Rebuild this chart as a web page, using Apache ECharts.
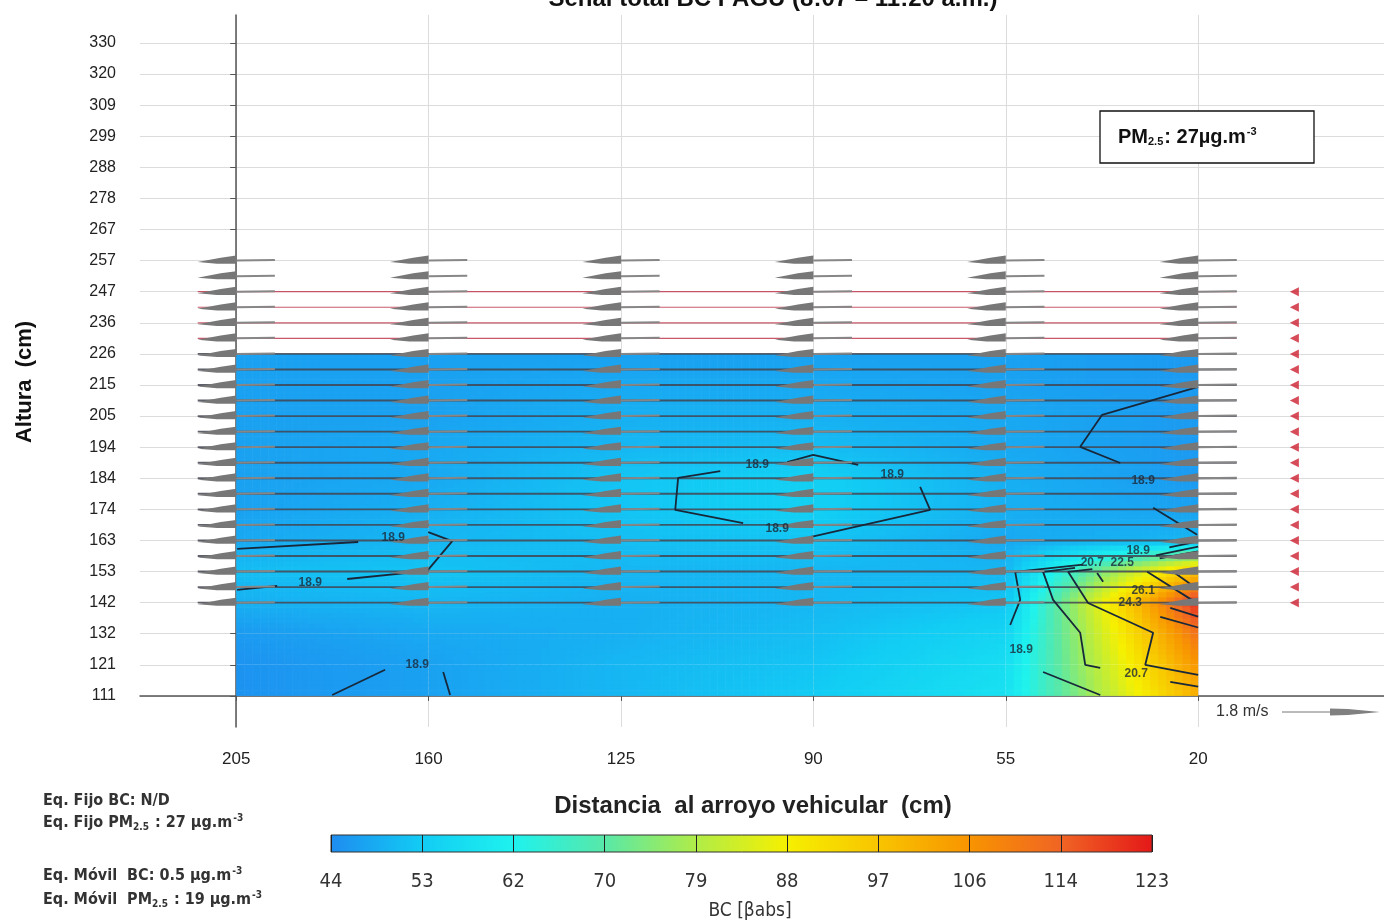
<!DOCTYPE html>
<html><head><meta charset="utf-8">
<script src="https://cdn.jsdelivr.net/npm/echarts@6/dist/echarts.min.js"></script>
<style>html,body{margin:0;padding:0;background:#fff}#c{width:1384px;height:922px}</style>
</head><body><div id="c"></div>
<script>
// ---------- data ----------
const xLabels = ['205','160','125','90','55','20'];
const yLabels = ['111','121','132','142','153','163','174','184','194','205','215','226','236','247','257','267','278','288','299','309','320','330'];
// BC field: rows bottom (111) to top (226), columns 205 -> 20
const bcField = [
  [45, 47, 50, 53, 58, 101],
  [45, 47, 50, 52, 57, 106],
  [46, 48, 49, 51, 55, 112],
  [49, 50, 49, 50, 52, 121],
  [51, 52, 50, 50, 50, 98],
  [48, 50, 51, 52, 48, 50],
  [47, 49, 52, 54, 49, 47],
  [47, 48, 52, 54, 49, 46],
  [47, 48, 50, 51, 48, 46],
  [47, 47, 49, 49, 48, 46],
  [47, 47, 48, 48, 47, 46],
  [47, 47, 47, 47, 47, 46]
];
const cbTicks = ['44','53','62','70','79','88','97','106','114','123'];
const cbValues = [44, 53, 62, 70, 79, 88, 97, 106, 114, 123];
const windRows = [3,3.5,4,4.5,5,5.5,6,6.5,7,7.5,8,8.5,9,9.5,10,10.5,11,11.5,12,12.5,13,13.5,14];
const windSpeed = [1.45,1.45,1.45,1.45,1.45,1.45,1.45,1.45,1.45,1.45,1.45,1.45,1.45,1.45,1.45,1.45,1.45,1.45,1.45,1.45,1.45,1.45,1.45];
const markerRows = [3,3.5,4,4.5,5,5.5,6,6.5,7,7.5,8,8.5,9,9.5,10,10.5,11,11.5,12,12.5,13];
const keySpeed = 1.8;
const contourLines = [
  [[0.005,4.73],[0.634,4.95]],
  [[0.998,5.27],[1.123,4.98],[0.993,4.02],[0.577,3.76]],
  [[0.213,3.54],[0.005,3.41]],
  [[0.499,0.03],[0.774,0.84]],
  [[1.076,0.77],[1.112,0.03]],
  [[2.516,7.23],[2.297,7.01],[2.282,5.98],[2.635,5.56]],
  [[2.864,7.52],[2.999,7.75],[3.233,7.43]],
  [[3.555,6.72],[3.607,5.98],[2.983,5.11]],
  [[5.0,9.94],[4.501,9.04],[4.387,8.01],[4.595,7.49]],
  [[4.766,6.05],[4.995,5.18]],
  [[4.023,2.28],[4.075,3.09],[4.049,3.99],[4.40,4.22]],
  [[4.85,4.78],[5.0,4.97]],
  [[4.491,0.9],[4.413,1.0],[4.387,2.03],[4.246,3.09],[4.194,3.99],[4.36,4.12]],
  [[4.78,4.52],[5.0,4.80]],
  [[4.855,0.45],[5.0,0.30]],
  [[5.0,0.68],[4.725,1.0],[4.766,2.03],[4.428,2.99],[4.324,3.99],[4.45,4.08]],
  [[4.80,4.42],[5.0,4.65]],
  [[4.735,3.99],[5.0,2.96]],
  [[4.87,3.99],[5.0,3.42]],
  [[4.855,2.83],[5.0,2.55]],
  [[4.803,2.54],[5.0,2.2]],
  [[4.194,0.77],[4.491,0.03]],
  [[4.475,3.95],[4.506,3.67]]
];
const contourLabels = [
  [0.816,5.08,'18.9'],[0.385,3.63,'18.9'],[0.941,1.0,'18.9'],
  [2.708,7.43,'18.9'],[3.410,7.11,'18.9'],[2.812,5.37,'18.9'],
  [4.714,6.91,'18.9'],[4.688,4.66,'18.9'],[4.08,1.48,'18.9'],
  [4.678,0.71,'20.7'],[4.45,4.28,'20.7'],[4.605,4.28,'22.5'],
  [4.714,3.38,'26.1'],[4.647,2.99,'24.3']
];

// ---------- styles ----------
const cbColors = ['#1e8cf0','#12ccf4','#1ef2ee','#58e8a8','#b0ec48','#f6f000','#f8c400','#f89400','#f06424','#e41818'];
const FONT = 'Liberation Sans, Arial, sans-serif';
const NARROW = '"DejaVu Sans Condensed", "Liberation Sans Narrow", sans-serif';

function hexToRgb(h){return [parseInt(h.substr(1,2),16),parseInt(h.substr(3,2),16),parseInt(h.substr(5,2),16)];}
const cbRgb = cbColors.map(hexToRgb);
function valueToColor(v){
  if (v <= cbValues[0]) return cbColors[0];
  const n = cbValues.length;
  if (v >= cbValues[n-1]) return cbColors[n-1];
  for (let k = 0; k < n-1; k++) {
    if (v <= cbValues[k+1]) {
      const t = (v - cbValues[k]) / (cbValues[k+1] - cbValues[k]);
      const a = cbRgb[k], b = cbRgb[k+1];
      return 'rgb(' + Math.round(a[0]+(b[0]-a[0])*t) + ',' + Math.round(a[1]+(b[1]-a[1])*t) + ',' + Math.round(a[2]+(b[2]-a[2])*t) + ')';
    }
  }
}

const cells = [];
for (let j = 0; j < bcField.length - 1; j++)
  for (let i = 0; i < xLabels.length - 1; i++) cells.push([i, j]);

const arrowData = [];
for (let i = 0; i < xLabels.length; i++)
  for (let r = 0; r < windRows.length; r++) arrowData.push([i, windRows[r], windSpeed[r]]);

const xIdx = xLabels.map((_, i) => i);
const yIdx = yLabels.map((_, i) => i);

const KEY_PX = 96; // pixel length of the key arrow (1.8 m/s)

const series = [];
// heat field
series.push({
  type: 'custom', xAxisIndex: 0, yAxisIndex: 0, z: 1, silent: true,
  data: cells,
  renderItem: function (params, api) {
    const i = api.value(0), j = api.value(1);
    const v00 = bcField[j][i], v10 = bcField[j][i+1], v01 = bcField[j+1][i], v11 = bcField[j+1][i+1];
    const p0 = api.coord([i, j]), p1 = api.coord([i+1, j+1]);
    const nx = 24, ny = 6;
    const w = (p1[0]-p0[0])/nx, h = (p0[1]-p1[1])/ny;
    const ch = [];
    for (let a = 0; a < nx; a++) for (let b = 0; b < ny; b++) {
      const u = (a+0.5)/nx, t = (b+0.5)/ny;
      const v = v00*(1-u)*(1-t) + v10*u*(1-t) + v01*(1-u)*t + v11*u*t;
      const x = p0[0] + a*w, y = p0[1] - (b+1)*h;
      ch.push({type:'rect', shape:{x:x, y:y - (b===ny-1 ? 0 : 0.6), width:w + (a===nx-1 ? 0 : 0.6), height:h + (b===ny-1 ? 0 : 0.6)}, style:{fill: valueToColor(v)}});
    }
    return {type:'group', children: ch};
  }
});
// stream lines through rows
series.push({
  type: 'custom', xAxisIndex: 0, yAxisIndex: 0, z: 3, silent: true,
  data: windRows.filter(y => y <= 13).map(y => [y]),
  renderItem: function (params, api) {
    const y = api.value(0);
    const a = api.coord([-0.2, y]), b = api.coord([5.2, y]);
    const inField = y <= 11;
    return {type:'line', shape:{x1:a[0], y1:a[1], x2:b[0], y2:b[1]},
      style:{stroke: inField ? 'rgba(66,68,80,0.85)' : 'rgba(192,60,80,0.85)', lineWidth: inField ? 1.9 : 1.2}};
  }
});
// contour lines
contourLines.forEach(seg => series.push({
  type: 'line', xAxisIndex: 0, yAxisIndex: 0, z: 5, silent: true,
  data: seg, showSymbol: false, symbol: 'none', animation: false,
  lineStyle: {color: '#18283a', width: 1.8}
}));
// wind arrows
series.push({
  type: 'custom', xAxisIndex: 0, yAxisIndex: 0, z: 6, silent: true,
  data: arrowData,
  renderItem: function (params, api) {
    const c = api.coord([api.value(0), api.value(1)]);
    const L = api.value(2) / keySpeed * KEY_PX / 2;
    const cx = c[0], cy = c[1];
    return {type:'group', children:[
      {type:'line', shape:{x1:cx, y1:cy, x2:cx+L, y2:cy-0.5}, style:{stroke:'#878787', lineWidth:2}},
      {type:'polygon', shape:{points:[[cx-L, cy+1.5],[cx-L*0.4, cy-2.8],[cx, cy-5],[cx, cy+3.2],[cx-L*0.5, cy+3.2]]}, style:{fill:'#777777'}}
    ]};
  }
});
// red markers
series.push({
  type: 'scatter', xAxisIndex: 0, yAxisIndex: 0, z: 6, silent: true,
  data: markerRows.map(y => [5.5, y]),
  symbol: 'triangle', symbolRotate: 90, symbolSize: [9, 9],
  itemStyle: {color: '#cc1f30'}
});
// contour labels
series.push({
  type: 'scatter', xAxisIndex: 0, yAxisIndex: 0, z: 7, silent: true,
  data: contourLabels, symbolSize: 0,
  label: {show: true, position: 'inside', formatter: p => p.value[2],
    fontFamily: FONT, fontWeight: 'bold', fontSize: 12, color: '#1b2838'}
});
// colorbar
series.push({
  type: 'custom', xAxisIndex: 1, yAxisIndex: 1, z: 2, silent: true,
  data: [[0]],
  renderItem: function (params, api) {
    const a = api.coord([0, 0]), b = api.coord([cbValues.length - 1, 1]);
    const stops = cbColors.map((c, k) => ({offset: k/(cbColors.length-1), color: c}));
    return {type:'rect', shape:{x:a[0], y:b[1], width:b[0]-a[0], height:a[1]-b[1]},
      style:{fill: new echarts.graphic.LinearGradient(0,0,1,0,stops), stroke:'#333', lineWidth:1}};
  }
});

const subSup = (fs, ff, col) => ({
  sub: {fontSize: fs, fontWeight: 'bold', fontFamily: ff, padding: [Math.round(fs*0.9),1,0,0], fill: col},
  sup: {fontSize: fs, fontWeight: 'bold', fontFamily: ff, padding: [0,0,Math.round(fs*0.9),1], fill: col}
});

const chart = echarts.init(document.getElementById('c'), null, {renderer: 'canvas'});
chart.setOption({
  animation: false,
  backgroundColor: '#fff',
  grid: [
    {left: 140, right: 0, top: 15, bottom: 195},
    {left: 331, width: 821, top: 835, height: 17}
  ],
  xAxis: [
    {type: 'value', gridIndex: 0, min: -0.5, max: 5.966,
      axisLine: {lineStyle: {color: '#555', width: 1.5}},
      axisTick: {show: true, customValues: xIdx, length: 5, lineStyle: {color: '#555'}},
      axisLabel: {customValues: xIdx, formatter: v => xLabels[Math.round(v)], fontFamily: FONT, fontSize: 17, color: '#222', margin: 24},
      splitLine: {show: true, lineStyle: {color: '#dcdcdc', width: 1}}},
    {type: 'value', gridIndex: 1, min: 0, max: cbTicks.length - 1, interval: 1, z: 10,
      axisLine: {show: false},
      axisTick: {show: true, inside: true, length: 17, lineStyle: {color: '#222', width: 1}},
      axisLabel: {formatter: v => cbTicks[Math.round(v)], fontFamily: NARROW, fontSize: 20, color: '#333', margin: 20},
      splitLine: {show: false}}
  ],
  yAxis: [
    {type: 'value', gridIndex: 0, min: -1, max: 21.9,
      axisLine: {show: true, lineStyle: {color: '#555', width: 1.5}},
      axisTick: {show: true, customValues: yIdx, length: 6, lineStyle: {color: '#555'}},
      axisLabel: {customValues: yIdx, formatter: v => yLabels[Math.round(v)], fontFamily: FONT, fontSize: 16, color: '#222', margin: 24},
      splitLine: {show: true, lineStyle: {color: '#dcdcdc', width: 1}}},
    {type: 'value', gridIndex: 1, min: 0, max: 1, show: false}
  ],
  graphic: [
    {type: 'text', x: 773, y: 11, z: 20, style: {text: 'Señal total BC PAGU (8:07 – 11:20 a.m.)', textAlign: 'center', textVerticalAlign: 'bottom', font: 'bold 24px ' + FONT, fill: '#111'}},
    {type: 'text', x: 25, y: 382, rotation: Math.PI/2, z: 20, style: {text: 'Altura  (cm)', textAlign: 'center', textVerticalAlign: 'middle', font: 'bold 22px ' + FONT, fill: '#111'}},
    {type: 'text', x: 753, y: 806, z: 20, style: {text: 'Distancia  al arroyo vehicular  (cm)', textAlign: 'center', textVerticalAlign: 'middle', font: 'bold 24px ' + FONT, fill: '#222'}},
    {type: 'text', x: 750, y: 911, z: 20, style: {text: 'BC [βabs]', textAlign: 'center', textVerticalAlign: 'middle', font: '19px ' + NARROW, fill: '#333'}},
    {type: 'rect', x: 1100, y: 111, z: 20, shape: {x: 0, y: 0, width: 214, height: 52}, style: {fill: '#fff', stroke: '#111', lineWidth: 1.3}},
    {type: 'text', x: 1118, y: 137, z: 21, style: {
      text: 'PM{sub|2.5}: 27µg.m{sup|-3}', textVerticalAlign: 'middle',
      font: 'bold 20px ' + FONT, fill: '#111', rich: subSup(11, FONT, '#111')}},
    {type: 'text', x: 1216, y: 712, z: 21, style: {text: '1.8 m/s', textVerticalAlign: 'middle', font: '16px ' + FONT, fill: '#333'}},
    {type: 'line', z: 21, shape: {x1: 1282, y1: 712, x2: 1332, y2: 712}, style: {stroke: '#777', lineWidth: 1}},
    {type: 'polygon', z: 21, shape: {points: [[1330,708.5],[1348,709],[1380,712],[1348,715],[1330,715.5]]}, style: {fill: '#808080'}},
    {type: 'text', x: 43, y: 801, z: 21, style: {text: 'Eq. Fijo BC: N/D', textVerticalAlign: 'middle', font: 'bold 16px ' + NARROW, fill: '#333'}},
    {type: 'text', x: 43, y: 823, z: 21, style: {text: 'Eq. Fijo PM{sub|2.5} : 27 µg.m{sup|-3}', textVerticalAlign: 'middle', font: 'bold 16px ' + NARROW, fill: '#333', rich: subSup(10, NARROW, '#333')}},
    {type: 'text', x: 43, y: 876, z: 21, style: {text: 'Eq. Móvil  BC: 0.5 µg.m{sup|-3}', textVerticalAlign: 'middle', font: 'bold 16px ' + NARROW, fill: '#333', rich: subSup(10, NARROW, '#333')}},
    {type: 'text', x: 43, y: 900, z: 21, style: {text: 'Eq. Móvil  PM{sub|2.5} : 19 µg.m{sup|-3}', textVerticalAlign: 'middle', font: 'bold 16px ' + NARROW, fill: '#333', rich: subSup(10, NARROW, '#333')}}
  ],
  series: series
});
</script>
</body></html>
